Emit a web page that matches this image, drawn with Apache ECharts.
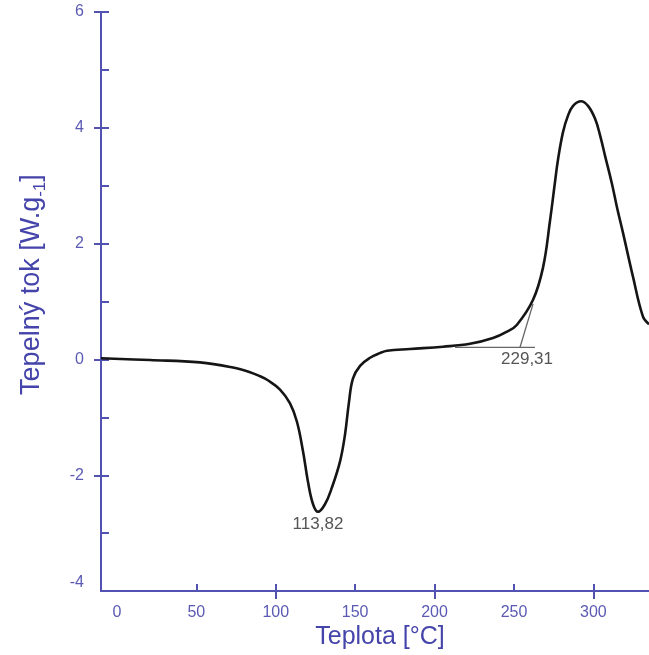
<!DOCTYPE html>
<html><head><meta charset="utf-8">
<script src="https://cdn.jsdelivr.net/npm/echarts@6/dist/echarts.min.js"></script>
<style>html,body{margin:0;padding:0;background:#fff}#c{width:649px;height:655px}</style>
</head><body><div id="c"></div>
<script>
// DSC curve: temperature (°C) and heat flow (W/g)
const temperature = [-10, 20.8, 52.3, 73.1, 83.8, 90.1, 94.5, 102.7, 109.0, 113.4, 117.2, 120.3, 123.5, 126.6, 131.0, 135.4, 140.5, 143.6, 146.1, 148.6, 153.1, 159.4, 165.6, 170.1, 184.5, 205.3, 222.3, 236.8, 245.6, 251.9, 262.0, 268.3, 272.7, 275.8, 277.7, 280.9, 284.0, 287.2, 292.2, 296.6, 301.0, 304.2, 307.3, 311.7, 314.9, 318.6, 324.9, 331.2, 335.0];
const heatFlow    = [0.02, -0.01, -0.05, -0.14, -0.22, -0.29, -0.35, -0.52, -0.76, -1.08, -1.59, -2.11, -2.50, -2.63, -2.50, -2.21, -1.76, -1.30, -0.74, -0.33, -0.11, 0.03, 0.11, 0.15, 0.18, 0.22, 0.27, 0.37, 0.48, 0.60, 1.03, 1.59, 2.40, 3.06, 3.45, 3.93, 4.21, 4.38, 4.46, 4.38, 4.16, 3.87, 3.52, 3.03, 2.62, 2.19, 1.43, 0.74, 0.61];
// onset construction lines
const baselineX = [212.9, 263.2];
const baselineY = [0.21, 0.21];
const tangentX  = [253.8, 262.0];
const tangentY  = [0.21, 0.96];
// annotations
const peakLabel  = '113,82';
const onsetLabel = '229,31';
// ticks
const xLabelTicks = [0, 50, 100, 150, 200, 250, 300];
const xMinorTicks = [50, 100, 150, 200, 250, 300];
const xMajorTicks = [100, 200, 300];
const yLabelTicks = [-4, -2, 0, 2, 4, 6];
const yMinorTicks = [-3, -2, -1, 0, 1, 2, 3, 4, 5, 6];
const yMajorTicks = [-2, 0, 2, 4, 6];

const AX = '#5252b2';
const LB = '#5a5ab4';
const TT = '#4444aa';

const minIdx = heatFlow.indexOf(Math.min(...heatFlow));
const curve = temperature.map((t, i) => {
  const item = { value: [t, heatFlow[i]] };
  if (i === minIdx) {
    item.label = { show: true, position: 'bottom', distance: 4, formatter: peakLabel,
      color: '#555', fontSize: 17, fontFamily: 'Liberation Sans' };
  }
  return item;
});

const chart = echarts.init(document.getElementById('c'), null, { renderer: 'canvas' });
const xBase = { type: 'value', min: -10, max: 335, position: 'bottom', splitLine: { show: false } };
const yBase = { type: 'value', min: -4, max: 6, position: 'left', splitLine: { show: false } };
const lineX = { show: true, onZero: false, lineStyle: { color: AX, width: 2 } };
chart.setOption({
  animation: false,
  backgroundColor: '#fff',
  grid: { left: 101, right: 0, top: 12, bottom: 57, containLabel: false },
  xAxis: [
    Object.assign({}, xBase, {
      name: 'Teplota [°C]', nameLocation: 'middle', nameGap: 30,
      nameTextStyle: { color: TT, fontSize: 25, fontFamily: 'Liberation Sans', padding: [0, 0, 0, 10] },
      axisLine: lineX,
      axisTick: { show: true, inside: true, length: 7, customValues: xMinorTicks, lineStyle: { color: AX, width: 2 } },
      axisLabel: { show: true, margin: 13, customValues: xLabelTicks, color: LB, fontSize: 16, fontFamily: 'Liberation Sans' }
    }),
    Object.assign({}, xBase, {
      axisLine: lineX,
      axisTick: { show: true, inside: false, length: 8, customValues: xMajorTicks, lineStyle: { color: AX, width: 2 } },
      axisLabel: { show: false }
    })
  ],
  yAxis: [
    Object.assign({}, yBase, {
      name: 'Tepelný tok [W.g{s|-1}]', nameLocation: 'middle', nameGap: 56,
      nameTextStyle: { color: TT, fontSize: 27, fontFamily: 'Liberation Sans', padding: [0, 0, 0, 34],
        rich: { s: { fontSize: 17, color: TT, fontFamily: 'Liberation Sans', verticalAlign: 'bottom', padding: [0, 0, -4, 0] } } },
      axisLine: lineX,
      axisTick: { show: true, inside: true, length: 8, customValues: yMinorTicks, lineStyle: { color: AX, width: 2 } },
      axisLabel: { show: true, margin: 17, customValues: yLabelTicks, color: LB, fontSize: 16, fontFamily: 'Liberation Sans',
        formatter: v => v === -4 ? '{lo|-4}' : String(v),
        rich: { lo: { padding: [0, 0, 18, 0], color: LB, fontSize: 16, fontFamily: 'Liberation Sans' } } }
    }),
    Object.assign({}, yBase, {
      axisLine: lineX,
      axisTick: { show: true, inside: false, length: 7, customValues: yMajorTicks, lineStyle: { color: AX, width: 2 } },
      axisLabel: { show: false }
    })
  ],
  series: [
    { type: 'line', data: baselineX.map((x, i) => [x, baselineY[i]]), symbol: 'none', silent: true,
      lineStyle: { color: '#666', width: 1.3 } },
    { type: 'line', data: tangentX.map((x, i) => {
        const it = { value: [x, tangentY[i]] };
        if (i === 0) it.label = { show: true, position: 'bottom', distance: 4, offset: [7, 0], formatter: onsetLabel,
          color: '#555', fontSize: 17, fontFamily: 'Liberation Sans' };
        return it;
      }), symbol: 'circle', symbolSize: 0, showSymbol: true, silent: true,
      lineStyle: { color: '#666', width: 1.3 } },
    { type: 'line', data: curve, smooth: 0.4, symbol: 'circle', symbolSize: 0, showSymbol: true,
      lineStyle: { color: '#151515', width: 2.6 }, z: 3 }
  ]
});
</script>
</body></html>
